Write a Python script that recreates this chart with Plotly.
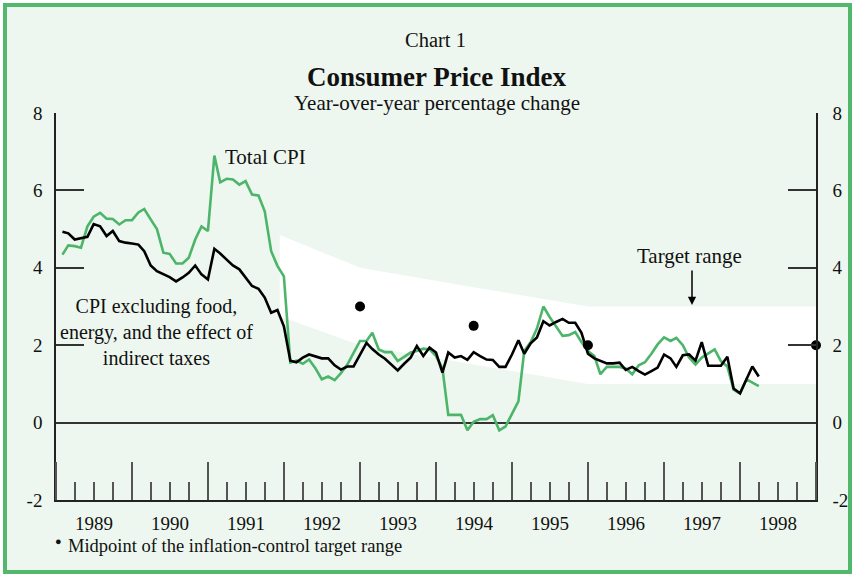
import plotly.graph_objects as go
import pandas as pd

# Monthly observations, January 1989 to March 1998 (plotted at month end)
months = pd.date_range("1989-02-01", periods=111, freq="MS")

total_cpi = [
    4.34, 4.58, 4.56, 4.52, 5.07, 5.32, 5.42, 5.27, 5.26, 5.12, 5.23, 5.23,   # 1989
    5.43, 5.52, 5.25, 5.00, 4.39, 4.36, 4.11, 4.11, 4.26, 4.73, 5.07, 4.95,   # 1990
    6.90, 6.21, 6.30, 6.28, 6.15, 6.24, 5.89, 5.87, 5.46, 4.43, 4.05, 3.78,   # 1991
    1.55, 1.60, 1.52, 1.63, 1.40, 1.12, 1.19, 1.10, 1.28, 1.50, 1.80, 2.11,   # 1992
    2.11, 2.32, 1.89, 1.82, 1.82, 1.59, 1.70, 1.81, 1.85, 1.91, 1.89, 1.72,   # 1993
    1.40, 0.20, 0.20, 0.20, -0.20, 0.02, 0.09, 0.09, 0.19, -0.20, -0.10, 0.21,  # 1994
    0.55, 1.85, 2.08, 2.43, 3.00, 2.73, 2.50, 2.24, 2.26, 2.34, 2.08, 1.85,   # 1995
    1.72, 1.25, 1.44, 1.44, 1.44, 1.40, 1.25, 1.48, 1.56, 1.78, 2.02, 2.20,   # 1996
    2.11, 2.19, 2.00, 1.68, 1.50, 1.68, 1.78, 1.89, 1.59, 1.45, 0.85, 0.75,   # 1997
    1.12, 1.03, 0.94,                                                         # 1998
]

core_cpi = [
    4.93, 4.89, 4.73, 4.76, 4.80, 5.13, 5.07, 4.82, 4.95, 4.69, 4.65, 4.63,   # 1989
    4.60, 4.43, 4.06, 3.91, 3.83, 3.76, 3.65, 3.75, 3.87, 4.06, 3.83, 3.70,   # 1990
    4.49, 4.37, 4.21, 4.06, 3.96, 3.74, 3.53, 3.46, 3.23, 2.84, 2.91, 2.49,   # 1991
    1.60, 1.56, 1.68, 1.76, 1.70, 1.66, 1.66, 1.48, 1.37, 1.45, 1.45, 1.75,   # 1992
    2.06, 1.90, 1.76, 1.65, 1.50, 1.35, 1.52, 1.68, 1.98, 1.72, 1.94, 1.81,   # 1993
    1.29, 1.81, 1.68, 1.72, 1.62, 1.82, 1.72, 1.63, 1.62, 1.44, 1.44, 1.76,   # 1994
    2.13, 1.78, 2.05, 2.20, 2.62, 2.51, 2.60, 2.68, 2.58, 2.58, 2.32, 1.78,   # 1995
    1.66, 1.59, 1.53, 1.53, 1.55, 1.36, 1.44, 1.33, 1.24, 1.33, 1.42, 1.76,   # 1996
    1.66, 1.44, 1.74, 1.76, 1.60, 2.08, 1.47, 1.47, 1.47, 1.70, 0.88, 0.76,   # 1997
    1.12, 1.45, 1.19,                                                         # 1998
]

# Inflation-control target range (upper / lower edges)
band_dates = ["1991-12-12", "1993-01-01", "1994-07-01", "1996-01-01", "1999-01-01"]
band_upper = [4.85, 4.0, 3.5, 3.0, 3.0]
band_lower = [2.75, 2.0, 1.5, 1.0, 1.0]

# Midpoints of the target range
mid_dates = ["1993-01-01", "1994-07-01", "1996-01-01", "1999-01-01"]
mid_values = [3.0, 2.5, 2.0, 2.0]

y_ticks = [-2, 0, 2, 4, 6, 8]
y_tick_labels = ["-2", "0", "2", "4", "6", "8"]

SERIF = "Liberation Serif, Times New Roman, serif"
BG = "#edf7ef"
GREEN = "#4db56a"
BORDER = "#52b96c"
TICK = "#555555"

fig = go.Figure()

fig.add_trace(go.Scatter(
    x=band_dates + band_dates[::-1],
    y=band_upper + band_lower[::-1],
    fill="toself", fillcolor="white", mode="none",
    hoverinfo="skip", showlegend=False,
))
fig.add_trace(go.Scatter(
    x=months, y=total_cpi, mode="lines",
    line=dict(color=GREEN, width=2.6), showlegend=False, name="Total CPI",
))
fig.add_trace(go.Scatter(
    x=months, y=core_cpi, mode="lines",
    line=dict(color="#000000", width=2.6), showlegend=False,
    name="CPI excluding food, energy, and the effect of indirect taxes",
))
fig.add_trace(go.Scatter(
    x=mid_dates, y=mid_values, mode="markers", yaxis="y2",
    marker=dict(color="#000000", size=10), cliponaxis=False, showlegend=False,
))

W, H = 854, 577
L, R, T, B = 56, 38, 113, 77
PW, PH = W - L - R, H - T - B


def px(xp):
    return (xp - L) / PW


def py(yp):
    return (H - B - yp) / PH


fig.update_layout(
    width=W, height=H, autosize=False,
    margin=dict(l=L, r=R, t=T, b=B, autoexpand=False),
    paper_bgcolor="white",
    plot_bgcolor="rgba(0,0,0,0)",
    font=dict(family=SERIF, size=19, color="#111111"),
    xaxis=dict(
        type="date", range=["1989-01-01", "1999-01-01"],
        tick0="1989-01-01", dtick="M12", tickformat="%Y", ticklabelmode="period",
        ticks="inside", ticklen=38, tickwidth=1.5, tickcolor=TICK,
        showline=True, linecolor="#222222", linewidth=1.5,
        showgrid=False, zeroline=False, automargin=False,
        tickfont=dict(family=SERIF, size=19),
        ticklabelstandoff=5,
        minor=dict(dtick="M3", tick0="1989-01-01", ticks="inside", ticklen=18,
                   tickwidth=1.5, tickcolor=TICK, showgrid=False),
    ),
    yaxis=dict(
        range=[-2, 8], tickvals=y_ticks, ticktext=y_tick_labels,
        ticks="inside", ticklen=28, tickwidth=1.5, tickcolor="#333333",
        showline=True, linecolor="#222222", linewidth=1.5, automargin=False,
        showgrid=False, zeroline=True, zerolinecolor="#333333", zerolinewidth=1.5,
        tickfont=dict(family=SERIF, size=19), ticklabelstandoff=8,
    ),
    yaxis2=dict(
        range=[-2, 8], tickvals=y_ticks, ticktext=y_tick_labels,
        overlaying="y", side="right",
        ticks="inside", ticklen=28, tickwidth=1.5, tickcolor="#333333",
        showline=True, linecolor="#222222", linewidth=1.5, automargin=False,
        showgrid=False, zeroline=False,
        tickfont=dict(family=SERIF, size=19), ticklabelstandoff=11,
    ),
)

# Frame
fig.add_shape(type="rect", xref="paper", yref="paper",
              x0=px(5), x1=px(850), y0=py(572), y1=py(5),
              line=dict(color=BORDER, width=4), fillcolor=BG, layer="below")

# Titles
fig.add_annotation(text="Chart 1", xref="paper", yref="paper", x=px(435), y=py(40),
                   showarrow=False, font=dict(size=20.5), xanchor="center", yanchor="middle")
fig.add_annotation(text="<b>Consumer Price Index</b>", xref="paper", yref="paper",
                   x=px(436), y=py(77), showarrow=False, font=dict(size=27),
                   xanchor="center", yanchor="middle")
fig.add_annotation(text="Year-over-year percentage change", xref="paper", yref="paper",
                   x=px(437), y=py(103), showarrow=False, font=dict(size=21),
                   xanchor="center", yanchor="middle")

# Series labels
fig.add_annotation(text="Total CPI", xref="paper", yref="paper", x=px(223), y=py(157),
                   showarrow=False, font=dict(size=21), xanchor="left", yanchor="middle")
fig.add_annotation(text="CPI excluding food,<br>energy, and the effect of<br>indirect taxes",
                   xref="paper", yref="paper", x=px(156), y=py(332),
                   showarrow=False, font=dict(size=20), xanchor="center", yanchor="middle",
                   align="center")
fig.add_annotation(text="Target range", xref="paper", yref="paper", x=px(689), y=py(256),
                   showarrow=False, font=dict(size=21), xanchor="center", yanchor="middle")
fig.add_annotation(x=px(692), y=py(305), ax=0, ay=-36,
                   xref="paper", yref="paper",
                   text="", showarrow=True, arrowhead=2, arrowsize=1.1, arrowwidth=1.5,
                   arrowcolor="#000000")

# Footnote
fig.add_annotation(text="●", xref="paper", yref="paper", x=px(53), y=py(541),
                   showarrow=False, font=dict(size=11), xanchor="left", yanchor="middle")
fig.add_annotation(text="Midpoint of the inflation-control target range", xref="paper",
                   yref="paper", x=px(66), y=py(546), showarrow=False,
                   font=dict(size=18.5), xanchor="left", yanchor="middle")

# Remove the default page margin so the figure sits at the window's origin
post = ("document.body.style.margin='0';document.body.style.padding='0';"
        "document.body.style.overflow='hidden';"
        "var gd=document.getElementById('{plot_id}');"
        "Plotly.relayout(gd,{width:854,height:577});")

fig.write_html("out.html", post_script=post, config={"displayModeBar": False})
